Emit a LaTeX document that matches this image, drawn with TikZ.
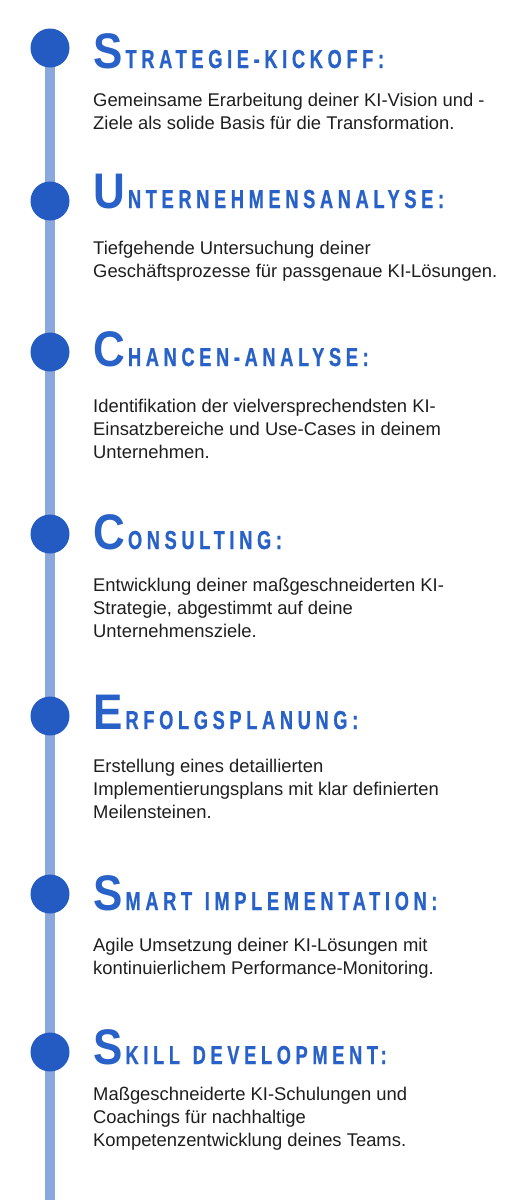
\documentclass[tikz,border=0pt]{standalone}
\usepackage{fontspec}
\setmainfont{Liberation Sans}
\newfontface\headbigface[FakeStretch=0.88]{Liberation Sans Bold}
\newfontface\headsmallface[FakeStretch=0.7,LetterSpace=18,FakeBold=0.8,WordSpace=1.3]{Liberation Sans Bold}
\definecolor{dotblue}{HTML}{235BC3}
\definecolor{lineblue}{HTML}{8AA8DE}
\definecolor{headblue}{HTML}{2861C8}
\definecolor{bodytext}{HTML}{1E1E1E}
\newcommand\phasehead[2]{{\fontsize{50}{50}\headbigface #1}\hspace{3pt}{\fontsize{26}{26}\headsmallface #2}}
\newcommand\bodylines[1]{\begin{tabular}[t]{@{}l@{}}#1\end{tabular}}
\begin{document}
\begin{tikzpicture}[x=1pt,y=-1pt,
  dot/.style={circle, fill=dotblue, minimum size=39pt, inner sep=0pt},
  spine/.style={draw=lineblue, line width=10pt},
  head/.style={anchor=base west, inner sep=0pt, text=headblue},
  body/.style={anchor=base west, inner sep=0pt, text=bodytext, font=\fontsize{18.4}{23.3}\selectfont}]
\useasboundingbox (0,0) rectangle (528,1200);
\coordinate (top) at (50,48);
\coordinate (bot) at (50,1200);
\draw[spine] (top) -- (bot);
\node[dot] (c1) at (50,48) {};
\node[dot] (c2) at (50,201) {};
\node[dot] (c3) at (50,352) {};
\node[dot] (c4) at (50,534) {};
\node[dot] (c5) at (50,716) {};
\node[dot] (c6) at (50,894) {};
\node[dot] (c7) at (50,1052) {};

\node[head] (h1) at (93,68) {\phasehead{S}{TRATEGIE-KICKOFF:}};
\node[body] (b1) at (93,106) {\bodylines{Gemeinsame Erarbeitung deiner KI-Vision und -\\Ziele als solide Basis für die Transformation.}};

\node[head] (h2) at (93,208) {\phasehead{U}{NTERNEHMENSANALYSE:}};
\node[body] (b2) at (93,254) {\bodylines{Tiefgehende Untersuchung deiner\\Geschäftsprozesse für passgenaue KI-Lösungen.}};

\node[head] (h3) at (93,366) {\phasehead{C}{HANCEN-ANALYSE:}};
\node[body] (b3) at (93,412) {\bodylines{Identifikation der vielversprechendsten KI-\\Einsatzbereiche und Use-Cases in deinem\\Unternehmen.}};

\node[head] (h4) at (93,549) {\phasehead{C}{ONSULTING:}};
\node[body] (b4) at (93,591) {\bodylines{Entwicklung deiner maßgeschneiderten KI-\\Strategie, abgestimmt auf deine\\Unternehmensziele.}};

\node[head] (h5) at (93,729) {\phasehead{E}{RFOLGSPLANUNG:}};
\node[body] (b5) at (93,772) {\bodylines{Erstellung eines detaillierten\\Implementierungsplans mit klar definierten\\Meilensteinen.}};

\node[head] (h6) at (93,910) {\phasehead{S}{MART IMPLEMENTATION:}};
\node[body] (b6) at (93,951) {\bodylines{Agile Umsetzung deiner KI-Lösungen mit\\kontinuierlichem Performance-Monitoring.}};

\node[head] (h7) at (93,1064) {\phasehead{S}{KILL DEVELOPMENT:}};
\node[body] (b7) at (93,1100) {\bodylines{Maßgeschneiderte KI-Schulungen und\\Coachings für nachhaltige\\Kompetenzentwicklung deines Teams.}};
\end{tikzpicture}
\end{document}
